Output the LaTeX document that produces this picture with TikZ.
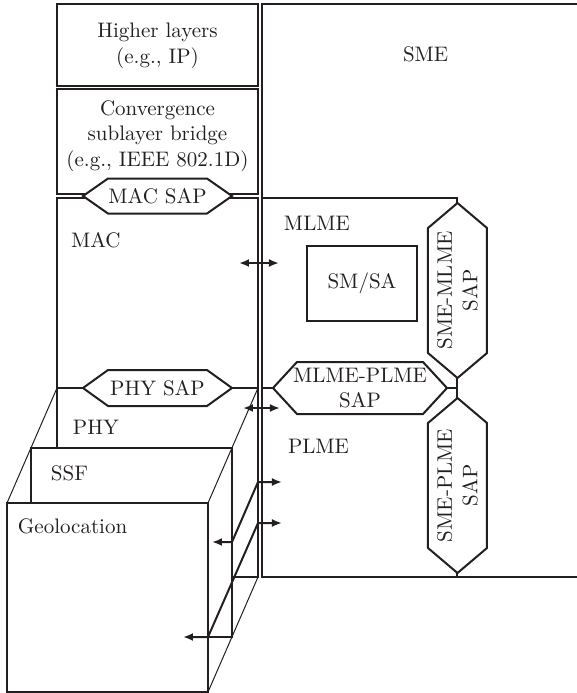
\documentclass[tikz,border=0pt]{standalone}
\usepackage{tikz}
\usetikzlibrary{arrows.meta}
\definecolor{LayerInk}{HTML}{231F20}
% flat service access point: name, x, y, half width, half height, chamfer, text
\newcommand{\saphex}[7]{%
  \draw[fill=white] (#2-#4,#3) coordinate (#1-w) -- (#2-#4+#6,#3-#5) -- (#2+#4-#6,#3-#5)
    -- (#2+#4,#3) coordinate (#1-e) -- (#2+#4-#6,#3+#5) -- (#2-#4+#6,#3+#5) -- cycle;
  \node[align=center] (#1) at (#2,#3) {#7};}
% standing service access point, text turned
\newcommand{\saphexv}[7]{%
  \draw[fill=white] (#2,#3-#5) coordinate (#1-n) -- (#2+#4,#3-#5+#6) -- (#2+#4,#3+#5-#6)
    -- (#2,#3+#5) coordinate (#1-s) -- (#2-#4,#3+#5-#6) -- (#2-#4,#3-#5+#6) -- cycle;
  \node[align=center, rotate=90] (#1) at (#2,#3) {#7};}

\begin{document}
\begin{tikzpicture}[x=0.5pt, y=-0.5pt, line width=1pt, color=LayerInk,
    font=\fontsize{10.5}{12.8}\selectfont,
    prim/.style={{Latex[length=5pt,width=4pt]}-{Latex[length=5pt,width=4pt]}}]
  \useasboundingbox (0,0) rectangle (577,693);
  % layers above the MAC
  \draw (57,4) rectangle (258,86);
  \node[align=center] (higher) at (157.5,46) {Higher layers\\(e.g., IP)};
  \draw (57,89) rectangle (258,194);
  \node[align=center] (conv) at (157.5,136) {Convergence\\sublayer bridge\\(e.g., IEEE 802.1D)};
  % MAC and PHY
  \draw (57,448) -- (57,198) -- (258,198) -- (258,577) -- (232,577);
  \saphex{macsap}{157.5}{196}{74.5}{17.5}{25}{MAC SAP}
  \draw (57,388) -- (232,388);
  \saphex{physap}{157.5}{388}{74.5}{18}{25}{PHY SAP}
  \draw (physap-e) -- (258,388);
  \node[anchor=base west, inner sep=0] (mac) at (70,247) {MAC};
  \node[anchor=base west, inner sep=0] (phy) at (72,434) {PHY};
  % station management
  \draw (577,4) -- (262,4) -- (262,577) -- (577,577);
  \node[anchor=base west, inner sep=0] (sme) at (402,61) {SME};
  \draw (262,198) -- (457.5,198) -- (457.5,210);
  \draw (457.5,370) -- (457.5,577);
  \draw (262,388) -- (457.5,388);
  \saphexv{smemlme}{457.5}{290.5}{29.5}{87.5}{25}{SME-MLME\\SAP}
  \saphexv{smeplme}{457.5}{485.5}{29.5}{87.5}{25}{SME-PLME\\SAP}
  \saphex{mlmeplme}{360}{388}{87}{26}{24}{MLME-PLME\\SAP}
  \node[draw, minimum width=55pt, minimum height=37.5pt] (smsa) at (362,283.5) {SM/SA};
  \node[anchor=base west, inner sep=0] (mlme) at (283,230) {MLME};
  \node[anchor=base west, inner sep=0] (plme) at (287,453) {PLME};
  % SSF and geolocation stacked under the PHY
  \draw (31.5,503) -- (31.5,448) -- (232,448) -- (232,637) -- (208,637);
  \draw (7,503) rectangle (208,692);
  \draw[line width=0.5pt] (57,388) -- (7,503) (258,388) -- (208,503) (258,577) -- (208,692);
  \node[anchor=base west, inner sep=0] (ssf) at (50,480) {SSF};
  \node[anchor=base west, inner sep=0] (geo) at (17,533) {Geolocation};
  % management primitives
  \coordinate (mac-l) at (239,263);
  \coordinate (mac-r) at (279,263);
  \coordinate (phy-l) at (243,408);
  \coordinate (phy-r) at (280,408);
  \coordinate (ssf-l) at (212,542);
  \coordinate (ssf-r) at (282,482);
  \coordinate (geo-l) at (183,637);
  \coordinate (geo-r) at (282,523);
  \draw[prim] (mac-l) -- (mac-r);
  \draw[prim] (phy-l) -- (phy-r);
  \draw[prim] (ssf-l) -- (232,542) -- (258,482) -- (ssf-r);
  \draw[prim] (geo-l) -- (208,637) -- (258,523) -- (geo-r);
\end{tikzpicture}
\end{document}
